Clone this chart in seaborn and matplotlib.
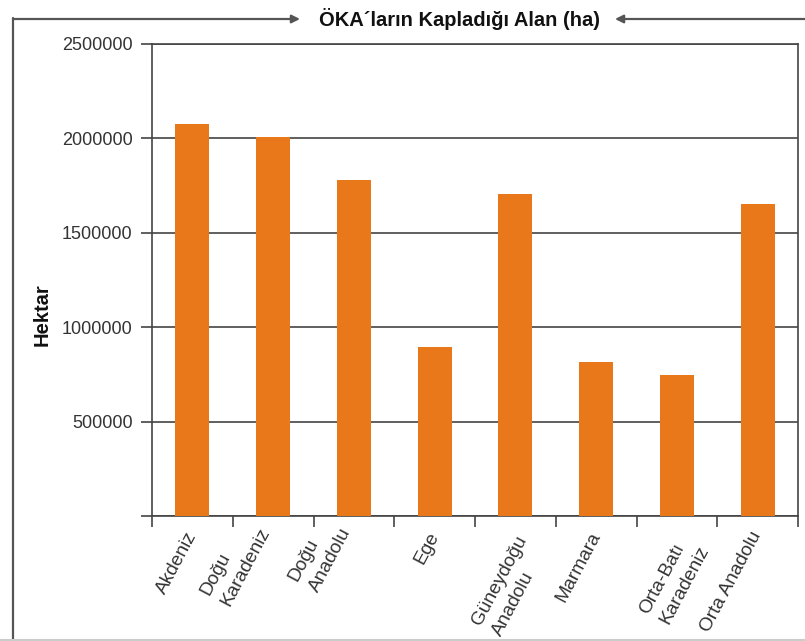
import matplotlib
matplotlib.use("Agg")
import matplotlib.pyplot as plt
import matplotlib.transforms as mtransforms
from matplotlib.lines import Line2D
import numpy as np
import pandas as pd
import seaborn as sns

# veriler
regions = ["Akdeniz", "Doğu\nKaradeniz", "Doğu\nAnadolu", "Ege",
           "Güneydoğu\nAnadolu", "Marmara", "Orta-Batı\nKaradeniz", "Orta Anadolu"]
hectares = [2078000, 2008000, 1780000, 895000, 1705000, 815000, 745000, 1652000]
y_ticks = [0, 500000, 1000000, 1500000, 2000000, 2500000]
y_tick_labels = ["", "500000", "1000000", "1500000", "2000000", "2500000"]
title = "ÖKA´ların Kapladığı Alan (ha)"
ylabel = "Hektar"

barColor = '#E8781A'
lineColor = '#444444'
textColor = '#333333'
frameColor = '#555555'

sns.set_style("white")
plt.rcParams['font.family'] = ['Liberation Sans', 'DejaVu Sans']

df = pd.DataFrame({'bolge': regions, 'alan': hectares})

fig = plt.figure(figsize=(8.05, 6.41), dpi=100)
ax = fig.add_axes([152/805, 1 - 516/641, 646/805, 472/641])

sns.barplot(data=df, x='bolge', y='alan', color=barColor, width=0.42,
            saturation=1, linewidth=0, ax=ax, zorder=3)

# osie
ax.set_ylim(0, 2500000)
ax.set_xlim(-0.5, len(regions) - 0.5)
ax.set_yticks(y_ticks)
ax.set_yticklabels(y_tick_labels, fontsize=13, color=textColor)
ax.yaxis.grid(True, color=lineColor, linewidth=1.2, zorder=0)
ax.set_axisbelow(True)

# x: kreski na granicach kategorii, podpisy pośrodku
ax.set_xticks(np.arange(-0.5, len(regions), 1))
ax.set_xticklabels([])
ax.set_xticks(np.arange(len(regions)), minor=True)
ax.set_xticklabels(regions, minor=True, rotation=62, ha='right', va='center',
                   rotation_mode='anchor', fontsize=13.8, color=textColor,
                   multialignment='left', linespacing=1.45)
shift = mtransforms.ScaledTranslation(6/100, 0, fig.dpi_scale_trans)
for lab in ax.get_xticklabels(minor=True):
    lines = lab.get_text().split("\n")
    if len(lines) > 1:
        lab.set_va('top' if len(lines[0]) >= len(lines[-1]) else 'bottom')
    lab.set_transform(lab.get_transform() + shift)
ax.tick_params(axis='x', which='major', length=8, width=1.2, color=lineColor, direction='out', bottom=True)
ax.tick_params(axis='x', which='minor', length=0, pad=12, bottom=True)
ax.tick_params(axis='y', length=8, width=1.2, color=lineColor, direction='out', left=True, pad=6)

for side in ['left', 'bottom', 'top', 'right']:
    ax.spines[side].set_visible(True)
    ax.spines[side].set_color(lineColor)
    ax.spines[side].set_linewidth(1.2)

ax.set_xlabel("")
ax.set_ylabel(ylabel, fontsize=14.5, fontweight='bold', color='#111111')
ax.yaxis.set_label_coords(-0.156, 0.426)

# ramka i strzałki wokół tytułu
yTop = 1 - 19/641
fig.add_artist(Line2D([13/805, 13/805], [0, yTop + 0.001],
                      color=frameColor, linewidth=1.6, transform=fig.transFigure))
fig.add_artist(Line2D([0, 1], [1/641, 1/641], color='#cccccc', linewidth=1.5,
                      transform=fig.transFigure))
fig.text(459/805, yTop, title, ha='center', va='center',
         fontsize=14.5, fontweight='bold', color='#111111')
ax.annotate("", xy=(300/805, yTop), xycoords='figure fraction',
            xytext=(13/805, yTop), textcoords='figure fraction',
            arrowprops=dict(arrowstyle='-|>', color=frameColor, lw=1.6, mutation_scale=12,
                            shrinkA=0, shrinkB=0))
ax.annotate("", xy=(615/805, yTop), xycoords='figure fraction',
            xytext=(805/805, yTop), textcoords='figure fraction',
            arrowprops=dict(arrowstyle='-|>', color=frameColor, lw=1.6, mutation_scale=12,
                            shrinkA=0, shrinkB=0))

plt.savefig('out.png', dpi=100)
